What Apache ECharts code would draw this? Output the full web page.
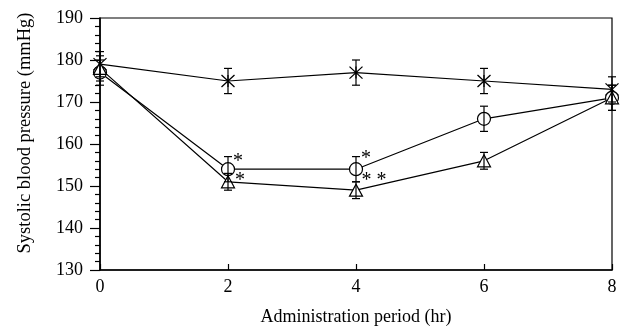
<!DOCTYPE html>
<html>
<head>
<meta charset="utf-8">
<script src="https://cdn.jsdelivr.net/npm/echarts@6/dist/echarts.min.js"></script>
<style>html,body{margin:0;padding:0;background:#fff}#c{width:624px;height:333px}</style>
</head>
<body>
<div id="c"></div>
<script>
const hours = [0, 2, 4, 6, 8];
const xTicks = [0, 2, 4, 6, 8];
const yTicks = [130, 140, 150, 160, 170, 180, 190];
const starVals = [179, 175, 177, 175, 173];
const starErr = [3, 3, 3, 3, 3];
const circleVals = [177, 154, 154, 166, 171];
const circleErr = [3, 3, 3, 3, 3];
const triVals = [178, 151, 149, 156, 171];
const triErr = [3, 2, 2, 2, 3];
// significance marks: [hour, value, text]
const sigMarks = [[2, 154, '*'], [4, 154, '*'], [2, 151, '*'], [4, 149, '* *']];

const FONT = 'Liberation Serif';
const chart = echarts.init(document.getElementById('c'));

function pairs(vals) { return hours.map((h, i) => [h, vals[i]]); }
function errData(vals, errs) { return hours.map((h, i) => [h, vals[i] - errs[i], vals[i] + errs[i]]); }

function errSeries(vals, errs) {
  return {
    type: 'custom',
    z: 5,
    data: errData(vals, errs),
    renderItem: function (params, api) {
      const x = api.value(0);
      const lo = api.coord([x, api.value(1)]);
      const hi = api.coord([x, api.value(2)]);
      const w = 4;
      const st = { stroke: '#000', lineWidth: 1.2 };
      return {
        type: 'group',
        children: [
          { type: 'line', shape: { x1: lo[0], y1: lo[1], x2: hi[0], y2: hi[1] }, style: st },
          { type: 'line', shape: { x1: lo[0] - w, y1: lo[1], x2: lo[0] + w, y2: lo[1] }, style: st },
          { type: 'line', shape: { x1: hi[0] - w, y1: hi[1], x2: hi[0] + w, y2: hi[1] }, style: st }
        ]
      };
    },
    silent: true
  };
}

function lineSeries(vals, symbol, size, fill) {
  return {
    type: 'line',
    data: pairs(vals),
    symbol: symbol,
    symbolSize: size,
    showAllSymbol: true,
    z: 3,
    lineStyle: { color: '#000', width: 1.2 },
    itemStyle: { color: fill, borderColor: '#000', borderWidth: 1.2 },
    emphasis: { disabled: true },
    animation: false
  };
}

const sigOffsets = [[10, -7], [10, -10], [12, -1], [18, -9]];

const option = {
  animation: false,
  grid: { left: 100, right: 12, top: 18, bottom: 63, show: true, borderColor: '#000', borderWidth: 1.2, backgroundColor: 'transparent' },
  xAxis: {
    type: 'value', min: xTicks[0], max: xTicks[xTicks.length - 1], interval: 2,
    name: 'Administration period (hr)', nameLocation: 'middle', nameGap: 38,
    nameTextStyle: { fontFamily: FONT, fontSize: 18, color: '#000' },
    axisLine: { show: true, lineStyle: { color: '#000', width: 1.6 } },
    axisTick: { show: true, inside: true, length: 6, lineStyle: { color: '#000', width: 1.2 } },
    axisLabel: { fontFamily: FONT, fontSize: 18, color: '#000', margin: 8 },
    splitLine: { show: false }
  },
  yAxis: {
    type: 'value', min: yTicks[0], max: yTicks[yTicks.length - 1], interval: 10,
    name: 'Systolic blood pressure (mmHg)', nameLocation: 'middle', nameGap: 65,
    nameTextStyle: { fontFamily: FONT, fontSize: 18.5, color: '#000', padding: [0, 0, 0, 22] },
    axisLine: { show: true, lineStyle: { color: '#000', width: 1.6 } },
    axisTick: { show: true, inside: false, length: 10, lineStyle: { color: '#000', width: 1.2 } },
    minorTick: { show: true, splitNumber: 5, length: 5, lineStyle: { color: '#000', width: 1.2 } },
    axisLabel: { fontFamily: FONT, fontSize: 18, color: '#000', margin: 17 },
    splitLine: { show: false }
  },
  series: [
    lineSeries(starVals, 'path://M-1,-1L1,1M-1,1L1,-1M0,-1L0,1', [13, 12], 'none'),
    lineSeries(circleVals, 'circle', 13, '#fff'),
    lineSeries(triVals, 'triangle', [13, 12], '#fff'),
    errSeries(starVals, starErr),
    errSeries(circleVals, circleErr),
    errSeries(triVals, triErr),
    {
      type: 'custom',
      z: 6,
      silent: true,
      data: sigMarks.map(d => [d[0], d[1]]),
      renderItem: function (params, api) {
        const p = api.coord([api.value(0), api.value(1)]);
        const o = sigOffsets[params.dataIndex];
        return {
          type: 'text',
          x: p[0] + o[0], y: p[1] + o[1],
          style: { text: sigMarks[params.dataIndex][2], fontFamily: FONT, fontSize: 20, fill: '#000', align: 'center', verticalAlign: 'middle' }
        };
      }
    }
  ]
};
chart.setOption(option);
</script>
</body>
</html>
